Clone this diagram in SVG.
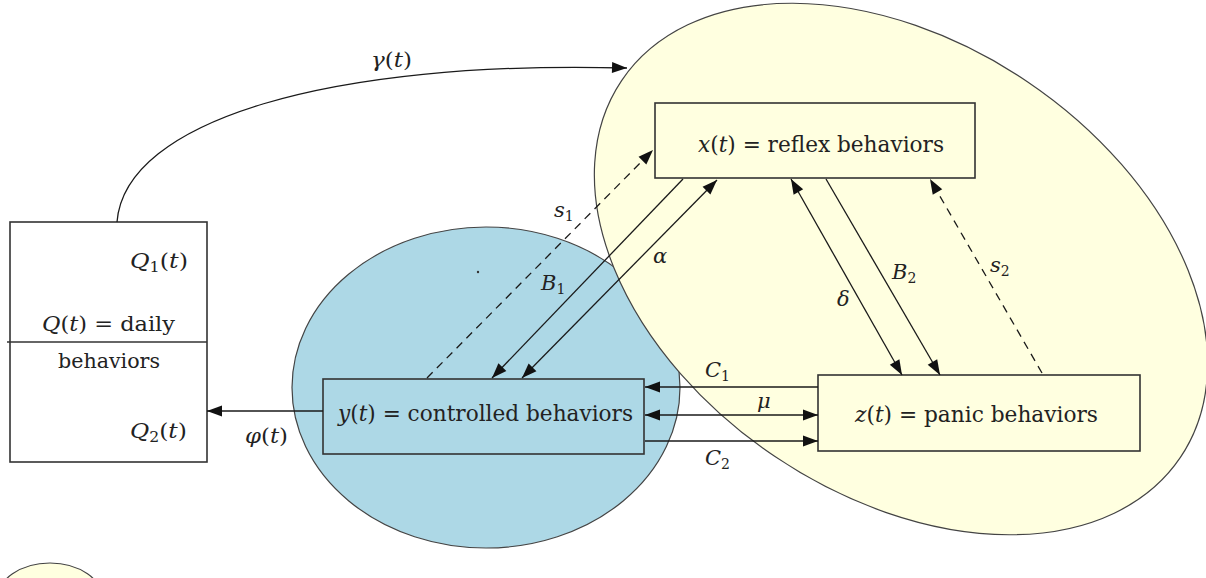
<svg xmlns="http://www.w3.org/2000/svg" width="1206" height="578" viewBox="0 0 1206 578">
<defs>
<style>
text{font-family:"DejaVu Serif",serif;fill:#222;}
.t{font-size:22px;}
.l{font-size:21px;}
.i{font-style:italic;}
.sub{font-size:14px;font-style:normal;}
.box{stroke:#333;stroke-width:1.6;}
.reg{stroke:#444;stroke-width:1.2;}
.ln{stroke:#1a1a1a;stroke-width:1.3;fill:none;}
.dash{stroke-dasharray:8 6;}
</style>
<marker id="ah" viewBox="-16 -7 17 14" refX="0" refY="0" markerWidth="17" markerHeight="14" markerUnits="userSpaceOnUse" orient="auto-start-reverse">
<path d="M0,0 L-15,-5.5 L-15,5.5 Z" fill="#111"/>
</marker>
</defs>
<rect width="1206" height="578" fill="#fff"/>

<g id="regions">
<ellipse id="blue-region" class="reg" cx="486" cy="387.5" rx="194" ry="160.5" fill="#ADD8E6"/>
<ellipse id="yellow-region" class="reg" cx="901" cy="269" rx="337" ry="226" transform="rotate(34 901 269)" fill="#FFFFE0"/>
<circle cx="478" cy="272" r="1.2" fill="#333"/>
</g>

<g id="node-Q">
<rect class="box" x="10" y="222" width="197" height="240" fill="#fff"/>
<line class="box" x1="7" y1="342" x2="207" y2="342"/>
<text class="l" x="130" y="268" textLength="58" lengthAdjust="spacingAndGlyphs"><tspan class="i">Q</tspan><tspan class="sub" dy="4">1</tspan><tspan dy="-4">(</tspan><tspan class="i">t</tspan>)</text>
<text class="l" x="42" y="331" textLength="133" lengthAdjust="spacingAndGlyphs"><tspan class="i">Q</tspan>(<tspan class="i">t</tspan>) = daily</text>
<text class="l" x="58" y="368" textLength="102" lengthAdjust="spacingAndGlyphs">behaviors</text>
<text class="l" x="130" y="438" textLength="57" lengthAdjust="spacingAndGlyphs"><tspan class="i">Q</tspan><tspan class="sub" dy="4">2</tspan><tspan dy="-4">(</tspan><tspan class="i">t</tspan>)</text>
</g>

<g id="node-x">
<rect class="box" x="655" y="103" width="320" height="75" fill="#FFFFE0"/>
<text class="t" x="698" y="152" textLength="246" lengthAdjust="spacingAndGlyphs"><tspan class="i">x</tspan>(<tspan class="i">t</tspan>) = reflex behaviors</text>
</g>

<g id="node-y">
<rect class="box" x="323" y="379" width="321" height="75" fill="#ADD8E6"/>
<text class="t" x="338" y="421" textLength="295" lengthAdjust="spacingAndGlyphs"><tspan class="i">y</tspan>(<tspan class="i">t</tspan>) = controlled behaviors</text>
</g>

<g id="node-z">
<rect class="box" x="818" y="375" width="322" height="76" fill="#FFFFE0"/>
<text class="t" x="855" y="422" textLength="243" lengthAdjust="spacingAndGlyphs"><tspan class="i">z</tspan>(<tspan class="i">t</tspan>) = panic behaviors</text>
</g>

<g id="connectors">
<path class="ln" d="M117,222 C125,120 330,60 627,68" marker-end="url(#ah)"/>
<line class="ln" x1="323" y1="411" x2="207" y2="411" marker-end="url(#ah)"/>
<line class="ln dash" x1="427" y1="378" x2="653" y2="150" marker-end="url(#ah)"/>
<line class="ln" x1="683" y1="179" x2="492" y2="378" marker-end="url(#ah)"/>
<line class="ln" x1="522" y1="378" x2="717" y2="180" marker-start="url(#ah)" marker-end="url(#ah)"/>
<line class="ln" x1="791" y1="179" x2="902" y2="375" marker-start="url(#ah)" marker-end="url(#ah)"/>
<line class="ln" x1="826" y1="179" x2="940" y2="375" marker-end="url(#ah)"/>
<line class="ln dash" x1="1042" y1="373" x2="930" y2="179" marker-end="url(#ah)"/>
<line class="ln" x1="818" y1="387" x2="645" y2="387" marker-end="url(#ah)"/>
<line class="ln" x1="645" y1="415" x2="818" y2="415" marker-start="url(#ah)" marker-end="url(#ah)"/>
<line class="ln" x1="645" y1="441" x2="818" y2="441" marker-end="url(#ah)"/>

<text class="l" x="371" y="67" textLength="41" lengthAdjust="spacingAndGlyphs"><tspan class="i">γ</tspan>(<tspan class="i">t</tspan>)</text>
<text class="l" x="245" y="443" textLength="43" lengthAdjust="spacingAndGlyphs"><tspan class="i">φ</tspan>(<tspan class="i">t</tspan>)</text>
<text class="l i" x="554" y="217">s<tspan class="sub" dy="4">1</tspan></text>
<text class="l i" x="541" y="290">B<tspan class="sub" dy="4">1</tspan></text>
<text class="l i" x="653" y="263">α</text>
<text class="l i" x="837" y="306">δ</text>
<text class="l i" x="892" y="279">B<tspan class="sub" dy="4">2</tspan></text>
<text class="l i" x="990" y="272">s<tspan class="sub" dy="4">2</tspan></text>
<text class="l i" x="705" y="377">C<tspan class="sub" dy="4">1</tspan></text>
<text class="l i" x="757" y="408">μ</text>
<text class="l i" x="705" y="465">C<tspan class="sub" dy="4">2</tspan></text>
</g>

<g id="legend">
<ellipse class="reg" cx="50" cy="600" rx="53" ry="37" fill="#FFFFE0"/>
</g>
</svg>
